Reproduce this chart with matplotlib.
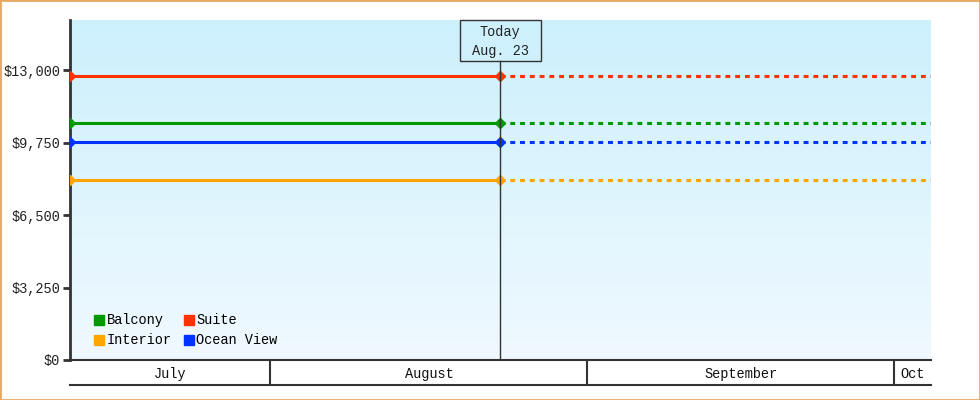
#!/usr/bin/env python3
"""
Purpose: Cabin price by category, today marker and forward projection
"""

import numpy as np
import pandas as pd
import matplotlib
matplotlib.use('Agg')
import matplotlib.pyplot as plt
import matplotlib.dates as mdates
from matplotlib.patches import Rectangle

# --------------------------------------------------
categories = ['Balcony', 'Interior', 'Suite', 'Ocean View']
prices = [10640, 8070, 12730, 9790]
colors = ['#009900', '#ffa500', '#ff3300', '#0033ff']

start = pd.Timestamp('2023-07-12 10:00')
today = pd.Timestamp('2023-08-23 11:00')
end = pd.Timestamp('2023-10-04 14:00')
today_label = 'Today\nAug. 23'

month_starts = ['2023-07-01', '2023-08-01', '2023-09-01', '2023-10-01',
                '2023-11-01']
month_names = ['July', 'August', 'September', 'Oct']

y_ticks = [0, 3250, 6500, 9750, 13000]
y_max = 15250

FONT = ['Liberation Mono', 'DejaVu Sans Mono']
DARK = '#333333'


# --------------------------------------------------
def main():
    plt.rcParams['font.family'] = FONT
    plt.rcParams['font.size'] = 9.8

    fig = plt.figure(figsize=(9.8, 4), dpi=100)
    W, H = 980, 400
    ax = fig.add_axes([70 / W, 40 / H, 861 / W, 340 / H])

    x0, x1 = mdates.date2num(start), mdates.date2num(end)
    xt = mdates.date2num(today)

    # gradient background
    grad = np.linspace(0, 1, 256).reshape(-1, 1)
    top = np.array([204, 240, 252]) / 255
    bot = np.array([240, 249, 255]) / 255
    img = top + (bot - top) * grad[:, :, None]
    ax.imshow(img, extent=[x0, x1, 0, y_max], aspect='auto',
              origin='upper', zorder=0)

    for name, price, col in zip(categories, prices, colors):
        ax.plot([x0, xt], [price, price], color=col, lw=2.2,
                marker='D', ms=5.5, zorder=3, solid_capstyle='butt')
        ax.plot([xt, x1], [price, price], color=col, lw=2.2,
                dashes=(1.6, 1.6), zorder=3)
        ax.plot([], [], ls='none', marker='s', ms=7.5, color=col, label=name)

    ax.set_xlim(x0, x1)
    ax.set_ylim(0, y_max)
    ax.set_yticks(y_ticks)
    ax.set_yticklabels(['${:,}'.format(v) for v in y_ticks])
    ax.set_xticks([])
    for s in ['top', 'right', 'bottom']:
        ax.spines[s].set_visible(False)
    ax.spines['left'].set_color(DARK)
    ax.spines['left'].set_linewidth(2)
    ax.tick_params(axis='y', length=5, width=2, color=DARK, pad=2,
                   labelcolor='#222222')

    # today line and box
    fx = (xt - x0) / (x1 - x0)
    box_top = 1.0
    box_bot = (360 - 61) / 340
    ax.plot([fx, fx], [0, box_bot], transform=ax.transAxes,
            color=DARK, lw=1, zorder=4)
    bw = 81 / 861
    ax.add_patch(Rectangle((fx - bw / 2, box_bot), bw, box_top - box_bot,
                           transform=ax.transAxes, fill=False,
                           edgecolor=DARK, lw=1, zorder=5, clip_on=False))
    ax.text(fx, (box_top + box_bot) / 2 - 0.004, today_label,
            transform=ax.transAxes, ha='center', va='center',
            linespacing=1.45, color='#222222', zorder=6)

    ax.legend(loc='lower left', ncol=2, frameon=False,
              bbox_to_anchor=(0.016, 0.005), handlelength=0.7,
              handletextpad=0.2, columnspacing=0.9, labelspacing=0.45,
              borderaxespad=0.4)

    # month bar
    mx = fig.add_axes([70 / W, 15 / H, 861 / W, 25 / H])
    mx.set_xlim(x0, x1)
    mx.set_ylim(0, 1)
    mx.set_xticks([])
    mx.set_yticks([])
    mx.patch.set_alpha(0)
    for s in ['left', 'right']:
        mx.spines[s].set_visible(False)
    for s in ['top', 'bottom']:
        mx.spines[s].set_color(DARK)
        mx.spines[s].set_linewidth(1.5)
    ms = [mdates.date2num(pd.Timestamp(m)) for m in month_starts]
    for i, name in enumerate(month_names):
        a, b = max(ms[i], x0), min(ms[i + 1], x1)
        if ms[i] > x0:
            mx.plot([ms[i], ms[i]], [0, 1], color=DARK, lw=1.5)
        mx.text((a + b) / 2, 0.45, name, ha='center', va='center',
                color='#111111')

    fig.patches.append(Rectangle((0, 0), 1, 1, transform=fig.transFigure,
                                 fill=False, edgecolor='#e8a860', lw=2))

    plt.savefig('out.png', dpi=100)


# --------------------------------------------------
if __name__ == '__main__':
    main()
